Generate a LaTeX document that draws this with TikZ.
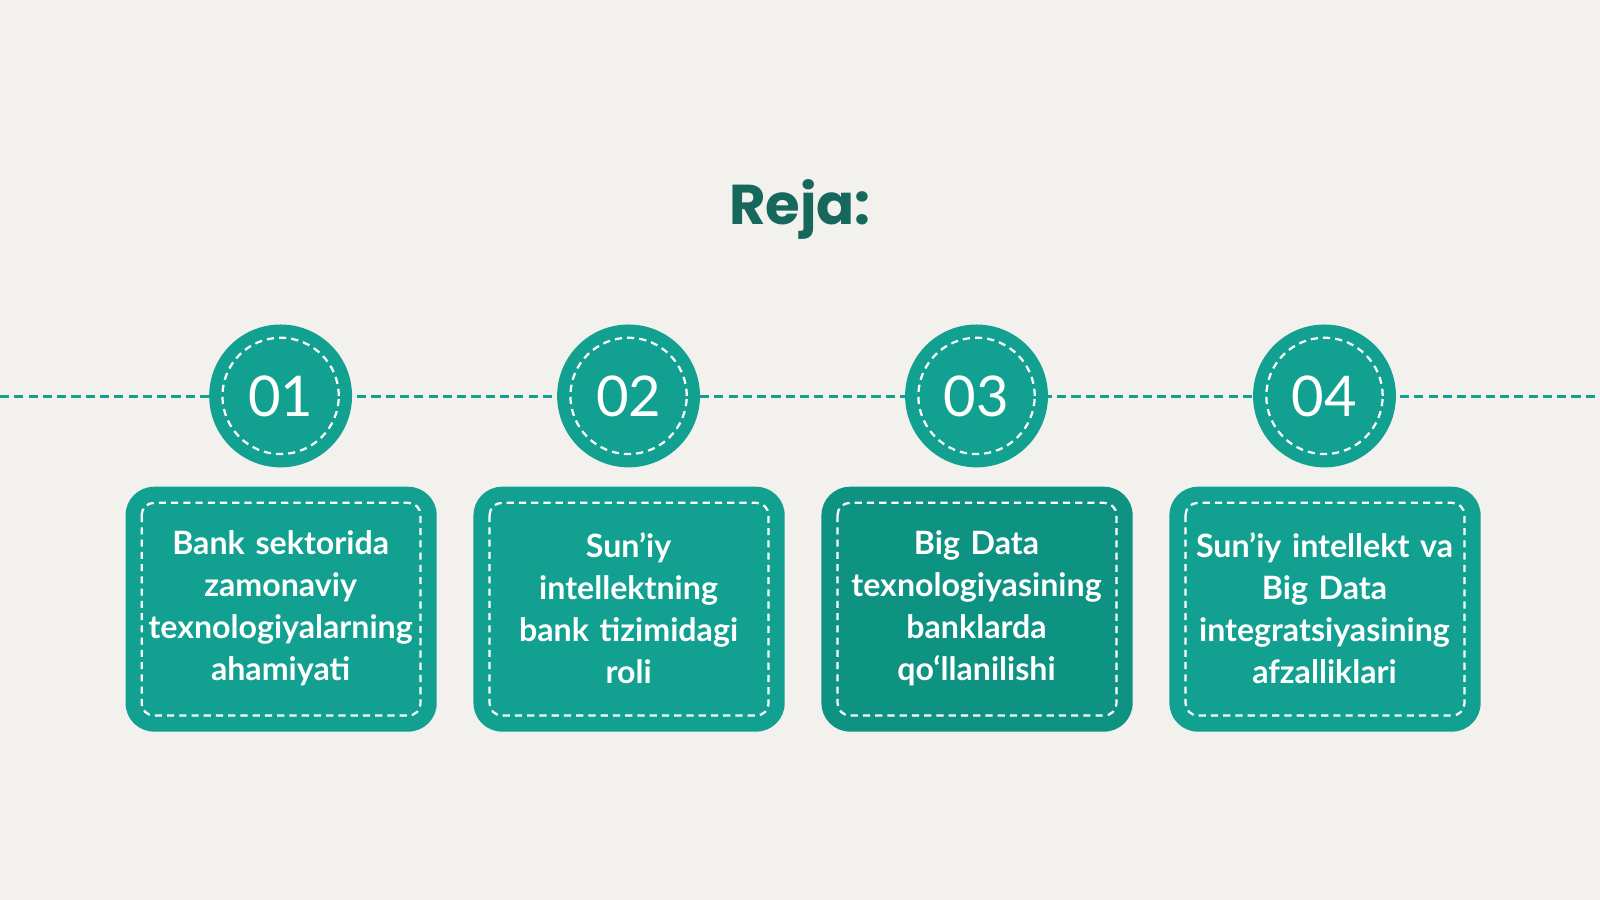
\documentclass[tikz,border=0pt]{standalone}
\usetikzlibrary{calc}
\usepackage{fontspec}
\setmainfont{Lato}
\newfontfamily\titlefont{Poppins}
\begin{document}
\definecolor{bg}{HTML}{F2F1EE}
\definecolor{teal}{HTML}{12A190}
\definecolor{tealdark}{HTML}{0E9281}
\definecolor{titlec}{HTML}{17685C}
\begin{tikzpicture}[x=1pt,y=-1pt,
  circ/.style={circle,fill=teal,minimum size=140pt,inner sep=0pt,text=white,font=\fontsize{55}{60}\selectfont},
  inner/.style={draw=white,dashed,line width=2.2pt,dash pattern=on 7pt off 5pt},
  box/.style={rounded corners=28pt,fill=teal,minimum width=305pt,minimum height=240pt,inner sep=0pt},
  lbl/.style={text=white,font=\bfseries\fontsize{31.5}{41}\selectfont,align=center,text width=300pt}]
\fill[bg] (0,0) rectangle (1568,882);
\useasboundingbox (0,0) rectangle (1568,882);
\node[text=titlec,font=\titlefont\bfseries\fontsize{55}{60}\selectfont] (title) at (784,205) {Reja:};
\coordinate (L) at (0,389); \coordinate (R) at (1568,389);
\draw[teal,line width=3pt,dash pattern=on 9pt off 5pt] (L) -- (R);
\foreach \i/\x/\n/\t/\c in {1/275/01/{Bank sektorida\\zamonaviy\\texnologiyalarning\\ahamiyati}/teal,
  2/616/02/{Sun’iy\\intellektning\\bank tizimidagi\\roli}/teal,
  3/957/03/{Big Data\\texnologiyasining\\banklarda\\qo‘llanilishi}/tealdark,
  4/1298/04/{Sun’iy intellekt va\\Big Data\\integratsiyasining\\afzalliklari}/teal}{
  \node[circ] (c\i) at (\x,388) {\n};
  \draw[inner] (c\i.center) circle (57pt);
  \node[box,fill=\c] (b\i) at (\x+0.5,597) {};
  \draw[inner,rounded corners=12pt] ($(b\i.north west)+(16,16)$) rectangle ($(b\i.south east)+(-16,-16)$);
  \node[lbl] (t\i) at (\x,596) {\t};
}
\end{tikzpicture}
\end{document}
